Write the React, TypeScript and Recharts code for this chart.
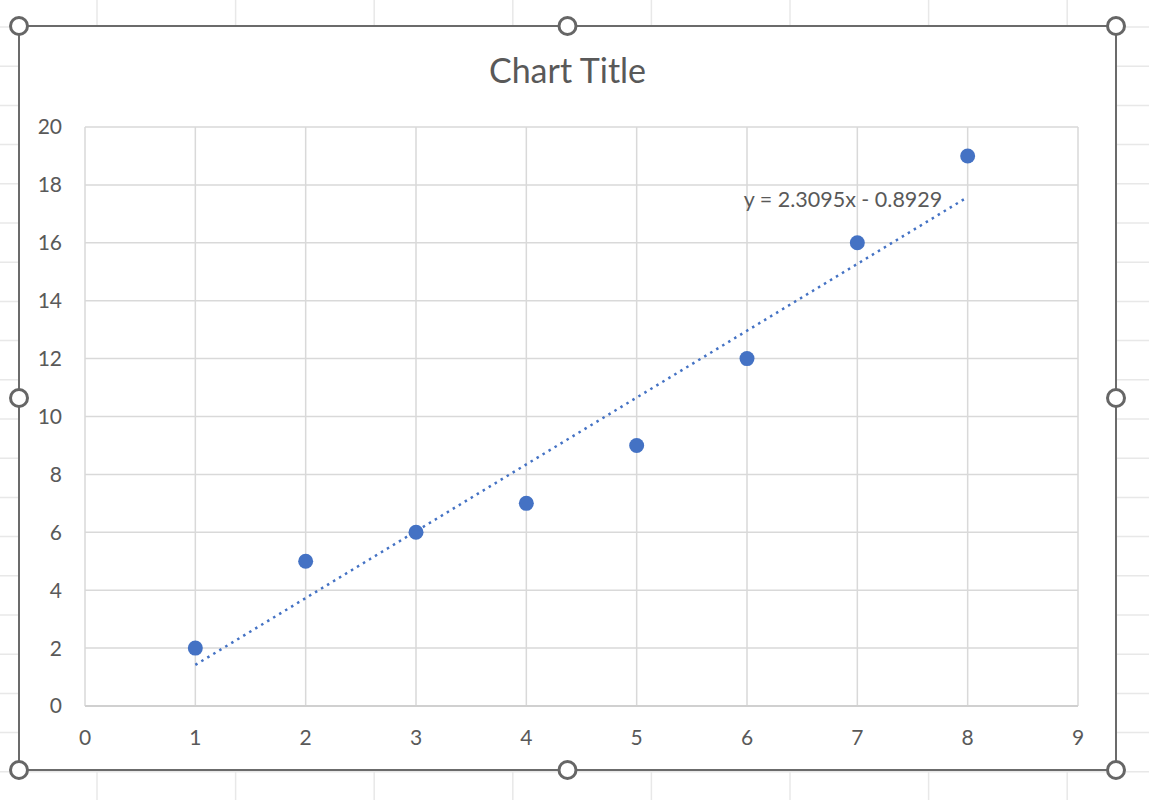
import { ScatterChart, Scatter, XAxis, YAxis, CartesianGrid, ReferenceDot } from 'recharts';

const xValues = [1, 2, 3, 4, 5, 6, 7, 8];
const yValues = [2, 5, 6, 7, 9, 12, 16, 19];
const xTicks = [0, 1, 2, 3, 4, 5, 6, 7, 8, 9];
const yTicks = [0, 2, 4, 6, 8, 10, 12, 14, 16, 18, 20];
// linear trendline ends, as drawn in the picture
const trendX = [1, 8];
const trendY = [1.42, 17.58];
const trendLabel = 'y = 2.3095x - 0.8929';
const title = 'Chart Title';

const points = xValues.map((x, i) => ({ x, y: yValues[i] }));
const trend = trendX.map((x, i) => ({ x, y: trendY[i] }));

const FONT = 'Lato, "Open Sans", sans-serif';
const TEXT = '#595959';
const BLUE = '#4472C4';

// frame of the chart object on the sheet
const FX = 19;
const FY = 26;
const FW = 1097;
const FH = 744;

const handles = [
  [FX, FY], [FX + FW / 2, FY], [FX + FW, FY],
  [FX, FY + FH / 2], [FX + FW, FY + FH / 2],
  [FX, FY + FH], [FX + FW / 2, FY + FH], [FX + FW, FY + FH],
];

function SheetGrid() {
  const cols = [];
  for (let x = 97; x < 1149; x += 138.6) cols.push(x);
  const rows = [];
  for (let y = 27; y < 800; y += 39.2) rows.push(y);
  return (
    <svg width={1149} height={800} style={{ position: 'absolute', left: 0, top: 0 }}>
      {cols.map((x) => (
        <line key={'c' + x} x1={x} x2={x} y1={0} y2={800} stroke="#e8e8e8" strokeWidth={1.5} />
      ))}
      {rows.map((y) => (
        <line key={'r' + y} x1={0} x2={1149} y1={y} y2={y} stroke="#e8e8e8" strokeWidth={1.5} />
      ))}
    </svg>
  );
}

const Dot = (props: any) => <circle cx={props.cx} cy={props.cy} r={7.5} fill={BLUE} />;

export default function App() {
  return (
    <div style={{ position: 'absolute', left: 0, top: 0, width: 1149, height: 800, background: '#fff', overflow: 'hidden' }}>
      <SheetGrid />
      <div
        style={{
          position: 'absolute',
          left: FX,
          top: FY,
          width: FW,
          height: FH,
          background: '#fff',
          fontFamily: FONT,
        }}
      >
        <div
          style={{
            position: 'absolute',
            left: 0,
            width: FW,
            top: 22,
            textAlign: 'center',
            fontSize: 34,
            lineHeight: '44px',
            color: TEXT,
            fontFamily: FONT,
          }}
        >
          {title}
        </div>
        <ScatterChart width={FW} height={FH} margin={{ top: 101, right: 38, left: 16, bottom: 24 }}>
          <CartesianGrid stroke="#d9d9d9" strokeWidth={1.5} />
          <XAxis
            type="number"
            dataKey="x"
            domain={[0, 9]}
            ticks={xTicks}
            interval={0}
            height={40}
            axisLine={{ stroke: '#d0d0d0', strokeWidth: 2 }}
            tickLine={false}
            tickSize={0}
            tickMargin={24}
            tick={{ fill: TEXT, fontSize: 21, fontFamily: FONT }}
          />
          <YAxis
            type="number"
            dataKey="y"
            domain={[0, 20]}
            ticks={yTicks}
            interval={0}
            width={50}
            axisLine={false}
            tickLine={false}
            tickSize={0}
            tickMargin={23}
            tick={{ fill: TEXT, fontSize: 21, fontFamily: FONT }}
          />
          <Scatter
            data={trend}
            line={{ stroke: BLUE, strokeWidth: 2.5, strokeDasharray: '2.5 4.5' }}
            shape={() => <g />}
            isAnimationActive={false}
          />
          <Scatter data={points} fill={BLUE} shape={Dot} isAnimationActive={false} />
          <ReferenceDot
            x={6.87}
            y={17.5}
            r={0}
            fill="none"
            stroke="none"
            label={{ value: trendLabel, position: 'center', fill: TEXT, fontSize: 21.5, fontFamily: FONT }}
          />
        </ScatterChart>
      </div>
      <svg width={1149} height={800} style={{ position: 'absolute', left: 0, top: 0, pointerEvents: 'none' }}>
        <rect x={FX} y={FY} width={FW} height={FH} fill="none" stroke="#6b6b6b" strokeWidth={2} />
        {handles.map(([x, y], i) => (
          <circle key={i} cx={x} cy={y} r={8.5} fill="#fff" stroke="#666" strokeWidth={3} />
        ))}
      </svg>
    </div>
  );
}
